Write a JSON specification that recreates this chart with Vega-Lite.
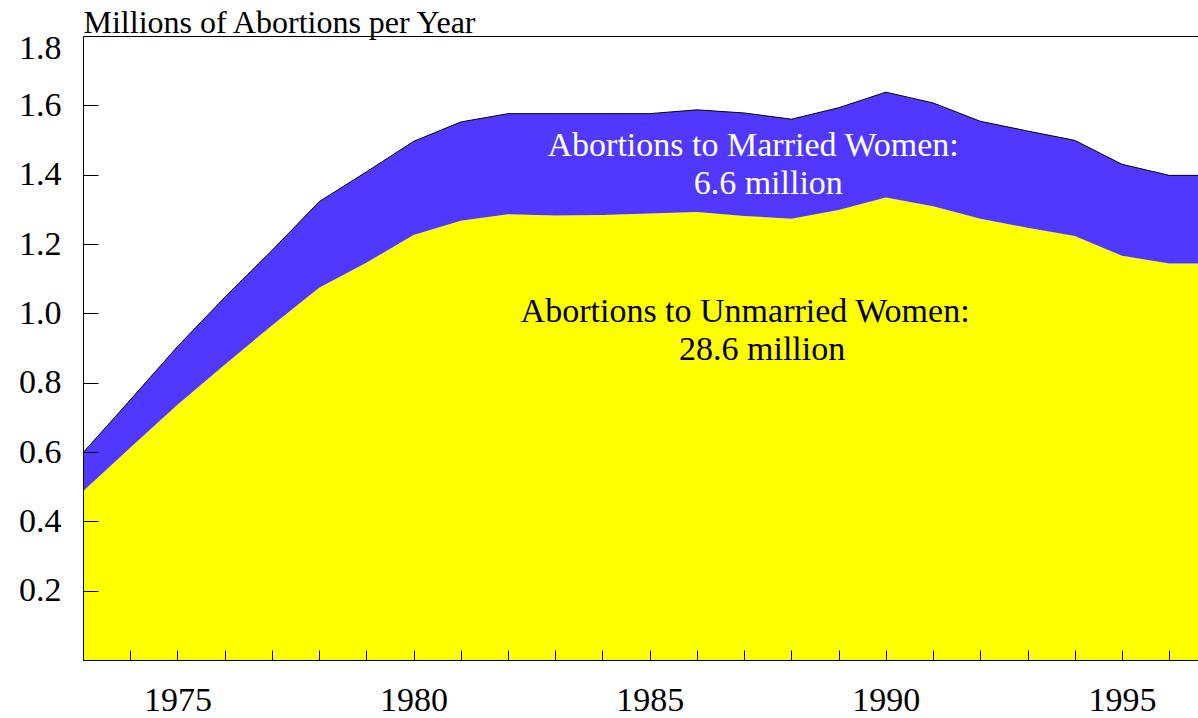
{
  "$schema": "https://vega.github.io/schema/vega-lite/v6.json",
  "width": 1115,
  "height": 624,
  "autosize": {"type": "none"},
  "padding": {"left": 83, "top": 36, "right": 0, "bottom": 58},
  "background": "white",
  "config": {
    "view": {"stroke": null},
    "font": "Liberation Serif",
    "axis": {
      "domainColor": "black",
      "domainWidth": 1,
      "tickColor": "black",
      "tickWidth": 1,
      "labelColor": "black",
      "labelFont": "Liberation Serif",
      "labelFontSize": 34,
      "titleFont": "Liberation Serif",
      "titleColor": "black",
      "titleFontWeight": "normal"
    }
  },
  "data": {
    "values": [
      {"year": 1973, "status": "Unmarried", "value": 0.487}, {"year": 1973, "status": "Married", "value": 0.111},
      {"year": 1974, "status": "Unmarried", "value": 0.612}, {"year": 1974, "status": "Married", "value": 0.138},
      {"year": 1975, "status": "Unmarried", "value": 0.736}, {"year": 1975, "status": "Married", "value": 0.168},
      {"year": 1976, "status": "Unmarried", "value": 0.852}, {"year": 1976, "status": "Married", "value": 0.194},
      {"year": 1977, "status": "Unmarried", "value": 0.965}, {"year": 1977, "status": "Married", "value": 0.216},
      {"year": 1978, "status": "Unmarried", "value": 1.074}, {"year": 1978, "status": "Married", "value": 0.248},
      {"year": 1979, "status": "Unmarried", "value": 1.146}, {"year": 1979, "status": "Married", "value": 0.262},
      {"year": 1980, "status": "Unmarried", "value": 1.226}, {"year": 1980, "status": "Married", "value": 0.270},
      {"year": 1981, "status": "Unmarried", "value": 1.267}, {"year": 1981, "status": "Married", "value": 0.285},
      {"year": 1982, "status": "Unmarried", "value": 1.286}, {"year": 1982, "status": "Married", "value": 0.290},
      {"year": 1983, "status": "Unmarried", "value": 1.282}, {"year": 1983, "status": "Married", "value": 0.294},
      {"year": 1984, "status": "Unmarried", "value": 1.284}, {"year": 1984, "status": "Married", "value": 0.292},
      {"year": 1985, "status": "Unmarried", "value": 1.288}, {"year": 1985, "status": "Married", "value": 0.288},
      {"year": 1986, "status": "Unmarried", "value": 1.292}, {"year": 1986, "status": "Married", "value": 0.295},
      {"year": 1987, "status": "Unmarried", "value": 1.281}, {"year": 1987, "status": "Married", "value": 0.297},
      {"year": 1988, "status": "Unmarried", "value": 1.273}, {"year": 1988, "status": "Married", "value": 0.287},
      {"year": 1989, "status": "Unmarried", "value": 1.298}, {"year": 1989, "status": "Married", "value": 0.295},
      {"year": 1990, "status": "Unmarried", "value": 1.334}, {"year": 1990, "status": "Married", "value": 0.304},
      {"year": 1991, "status": "Unmarried", "value": 1.309}, {"year": 1991, "status": "Married", "value": 0.298},
      {"year": 1992, "status": "Unmarried", "value": 1.273}, {"year": 1992, "status": "Married", "value": 0.281},
      {"year": 1993, "status": "Unmarried", "value": 1.247}, {"year": 1993, "status": "Married", "value": 0.279},
      {"year": 1994, "status": "Unmarried", "value": 1.223}, {"year": 1994, "status": "Married", "value": 0.276},
      {"year": 1995, "status": "Unmarried", "value": 1.166}, {"year": 1995, "status": "Married", "value": 0.264},
      {"year": 1996, "status": "Unmarried", "value": 1.144}, {"year": 1996, "status": "Married", "value": 0.254},
      {"year": 1997, "status": "Unmarried", "value": 1.144}, {"year": 1997, "status": "Married", "value": 0.254}
    ]
  },
  "layer": [
    {
      "mark": {"type": "area", "clip": true, "opacity": 1},
      "encoding": {
        "x": {
          "field": "year",
          "type": "quantitative",
          "scale": {"domain": [1973, 1996.61], "nice": false, "zero": false},
          "axis": {
            "title": null,
            "zindex": 1,
            "values": [1973, 1974, 1975, 1976, 1977, 1978, 1979, 1980, 1981, 1982, 1983, 1984, 1985, 1986, 1987, 1988, 1989, 1990, 1991, 1992, 1993, 1994, 1995, 1996],
            "format": "d",
            "labelExpr": "datum.value % 5 === 0 ? datum.label : ''",
            "tickSize": -10,
            "labelBaseline": "alphabetic",
            "labelPadding": 60,
            "labelFlush": false,
            "grid": false
          }
        },
        "y": {
          "field": "value",
          "type": "quantitative",
          "stack": "zero",
          "scale": {"domain": [0, 1.8], "nice": false},
          "axis": {
            "zindex": 1,
            "title": "Millions of Abortions per Year",
            "titleAngle": 0,
            "titleAlign": "left",
            "titleBaseline": "alphabetic",
            "titleX": 0,
            "titleY": -4,
            "titleFontSize": 32,
            "values": [0.2, 0.4, 0.6, 0.8, 1.0, 1.2, 1.4, 1.6, 1.8],
            "format": ".1f",
            "tickSize": -15,
            "labelPadding": 37,
            "labelFlush": true,
            "labelFlushOffset": 5,
            "grid": true,
            "gridColor": "black",
            "gridWidth": 1,
            "gridOpacity": {"condition": {"test": "datum.value > 1.75", "value": 1}, "value": 0}
          }
        },
        "color": {
          "field": "status",
          "type": "nominal",
          "scale": {"domain": ["Unmarried", "Married"], "range": ["#ffff00", "#5038ff"]},
          "legend": null
        },
        "order": {"field": "status", "sort": "descending"}
      }
    },
    {
      "mark": {"type": "line", "clip": true, "color": "black", "strokeWidth": 1},
      "encoding": {
        "x": {"field": "year", "type": "quantitative"},
        "y": {"aggregate": "sum", "field": "value", "type": "quantitative"}
      }
    },
    {
      "data": {"values": [{"label": "Abortions to Married Women:"}]},
      "mark": {"type": "text", "align": "center", "baseline": "alphabetic", "fontSize": 34, "color": "white", "font": "Liberation Serif"},
      "encoding": {
        "x": {"datum": 1987.19, "type": "quantitative"},
        "y": {"datum": 1.454, "type": "quantitative"},
        "text": {"field": "label"}
      }
    },
    {
      "data": {"values": [{"label": "6.6 million"}]},
      "mark": {"type": "text", "align": "center", "baseline": "alphabetic", "fontSize": 34, "color": "white", "font": "Liberation Serif"},
      "encoding": {
        "x": {"datum": 1987.51, "type": "quantitative"},
        "y": {"datum": 1.344, "type": "quantitative"},
        "text": {"field": "label"}
      }
    },
    {
      "data": {"values": [{"label": "Abortions to Unmarried Women:"}]},
      "mark": {"type": "text", "align": "center", "baseline": "alphabetic", "fontSize": 34, "color": "black", "font": "Liberation Serif"},
      "encoding": {
        "x": {"datum": 1987.02, "type": "quantitative"},
        "y": {"datum": 0.976, "type": "quantitative"},
        "text": {"field": "label"}
      }
    },
    {
      "data": {"values": [{"label": "28.6 million"}]},
      "mark": {"type": "text", "align": "center", "baseline": "alphabetic", "fontSize": 34, "color": "black", "font": "Liberation Serif"},
      "encoding": {
        "x": {"datum": 1987.38, "type": "quantitative"},
        "y": {"datum": 0.865, "type": "quantitative"},
        "text": {"field": "label"}
      }
    }
  ]
}
